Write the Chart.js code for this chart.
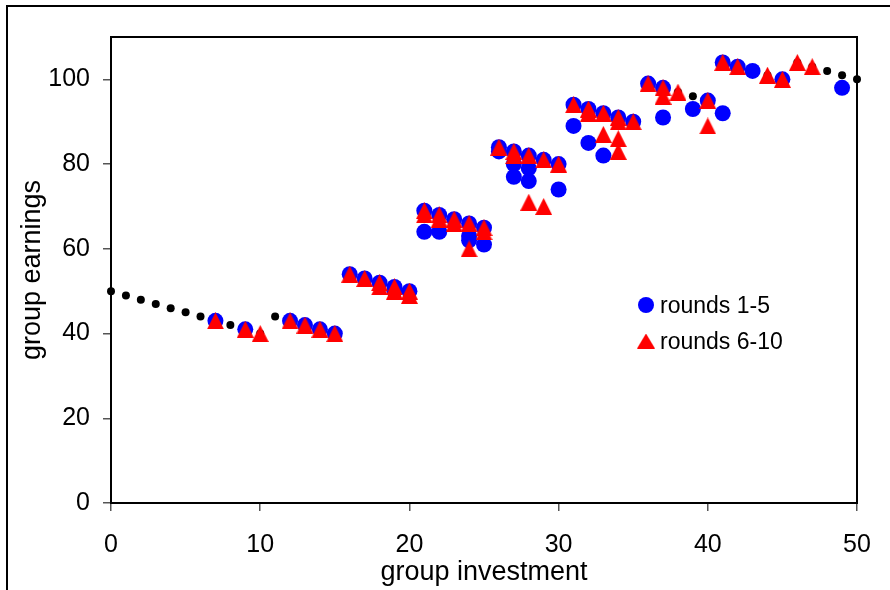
<!DOCTYPE html>
<html><head><meta charset="utf-8">
<script src="https://cdn.jsdelivr.net/npm/chart.js@4/dist/chart.umd.min.js"></script>
<style>html,body{margin:0;padding:0;background:#fff;}#wrap{position:relative;width:890px;height:590px;}</style>
</head><body><div id="wrap"><canvas id="c" width="890" height="590"></canvas></div>
<script>
// ---- data ----
const xTicks = [0, 10, 20, 30, 40, 50];
const yTicks = [0, 20, 40, 60, 80, 100];

const theoryInvestment = [0,1,2,3,4,5,6,7,8,9,10,11,12,13,14,15,16,17,18,19,20,21,22,23,24,25,26,27,28,29,30,31,32,33,34,35,36,37,38,39,40,41,42,43,44,45,46,47,48,49,50];
const theoryEarnings   = [50,49,48,47,46,45,44,43,42,41,40,44,43,42,41,40,54,53,52,51,50,69,68,67,66,65,84,83,82,81,80,94,93,92,91,90,99,98,97,96,95,104,103,102,101,100,104,103,102,101,100];

const rounds1to5Investment = [7,9,12,13,14,15,16,17,18,19,19,20,21,21,22,22,23,24,24,24,25,25,26,26,27,27,27,28,28,28,29,30,30,31,31,32,32,33,33,34,35,36,37,37,39,40,41,41,42,43,45,49];
const rounds1to5Earnings   = [43,41,43,42,41,40,54,53,52,51,50,50,69,64,68,64,67,66,63,62,65,61,84,83,83,80,77,82,79,76,81,80,74,94,89,93,85,92,82,91,90,99,98,91,93,95,104,92,103,102,100,98];

const rounds6to10Investment = [7,9,10,12,13,14,15,16,17,18,18,19,19,20,20,21,21,22,22,23,23,24,24,25,25,26,27,27,28,28,29,29,30,31,32,32,33,33,34,34,34,34,35,36,37,37,38,40,40,41,42,44,45,46,47];
const rounds6to10Earnings   = [43,41,40,43,42,41,40,54,53,52,51,51,50,50,49,69,68,68,67,67,66,66,60,65,64,84,83,82,82,71,81,70,80,94,93,92,92,87,91,90,86,83,90,99,98,96,97,95,89,104,103,101,100,104,103];

const seriesLabels = ['rounds 1-5', 'rounds 6-10'];

// ---- helpers ----
const FONT = '"Liberation Sans", Arial, sans-serif';
function pts(xs, ys) { return xs.map((x, i) => ({x: x, y: ys[i]})); }
function makeTriangle(color, w, h) {
  const c = document.createElement('canvas'); c.width = w; c.height = h;
  const g = c.getContext('2d'); g.fillStyle = color;
  g.beginPath(); g.moveTo(w / 2, 0); g.lineTo(w, h); g.lineTo(0, h); g.closePath(); g.fill();
  return c;
}
const triData = makeTriangle('#FF0000', 17, 17);
const triLegend = makeTriangle('#FF0000', 18, 15);

const framePlugin = {
  id: 'frames',
  beforeDatasetsDraw(chart) {
    const ctx = chart.ctx, a = chart.chartArea;
    ctx.save();
    ctx.strokeStyle = '#000'; ctx.lineWidth = 2;
    ctx.beginPath(); ctx.moveTo(7, 590); ctx.lineTo(7, 6); ctx.lineTo(890, 6); ctx.stroke();
    ctx.strokeRect(a.left, a.top, a.right - a.left, a.bottom - a.top);
    ctx.restore();
  }
};
const legendPlugin = {
  id: 'customLegend',
  afterDraw(chart) {
    const ctx = chart.ctx;
    ctx.save();
    ctx.fillStyle = '#0000FF';
    ctx.beginPath(); ctx.arc(646, 305, 8, 0, Math.PI * 2); ctx.fill();
    ctx.drawImage(triLegend, 637, 333.5);
    ctx.fillStyle = '#000'; ctx.font = '23px ' + FONT; ctx.textBaseline = 'alphabetic'; ctx.textAlign = 'left';
    ctx.fillText(seriesLabels[0], 660, 313);
    ctx.fillText(seriesLabels[1], 660, 348.5);
    ctx.restore();
  }
};

new Chart(document.getElementById('c'), {
  type: 'scatter',
  data: {
    datasets: [
      {label: seriesLabels[1], data: pts(rounds6to10Investment, rounds6to10Earnings), pointStyle: triData, pointRadius: 8, backgroundColor: '#FF0000', borderWidth: 0, clip: false},
      {label: seriesLabels[0], data: pts(rounds1to5Investment, rounds1to5Earnings), pointStyle: 'circle', pointRadius: 8, backgroundColor: '#0000FF', borderColor: '#0000FF', borderWidth: 0, clip: false},
      {label: 'theory', data: pts(theoryInvestment, theoryEarnings), pointStyle: 'circle', pointRadius: 4, backgroundColor: '#000', borderWidth: 0, clip: false}
    ]
  },
  options: {
    responsive: false, animation: false, events: [],
    layout: {padding: {top: 37, right: 33, left: 0, bottom: 0}},
    plugins: {legend: {display: false}, tooltip: {enabled: false}},
    scales: {
      x: {
        type: 'linear', min: 0, max: 50,
        afterBuildTicks: s => { s.ticks = xTicks.map(v => ({value: v})); },
        afterFit: s => { s.height = 87; },
        grid: {display: true, drawOnChartArea: false, drawTicks: true, tickLength: 8, color: '#555', lineWidth: 1.5},
        border: {display: false},
        ticks: {font: {size: 25, family: FONT}, color: '#000', padding: 19, maxRotation: 0},
        title: {display: true, text: 'group investment', font: {size: 27, family: FONT}, color: '#000', padding: {top: 0, bottom: 1}}
      },
      y: {
        type: 'linear', min: 0, max: 110,
        afterBuildTicks: s => { s.ticks = yTicks.map(v => ({value: v})); },
        afterFit: s => { s.width = 111; },
        grid: {display: true, drawOnChartArea: false, drawTicks: true, tickLength: 8, color: '#555', lineWidth: 1.5},
        border: {display: false},
        ticks: {font: {size: 25, family: FONT}, color: '#000', padding: 13},
        title: {display: true, text: 'group earnings', font: {size: 27, family: FONT}, color: '#000', padding: {top: 16, bottom: 0}}
      }
    }
  },
  plugins: [framePlugin, legendPlugin]
});
</script></body></html>
